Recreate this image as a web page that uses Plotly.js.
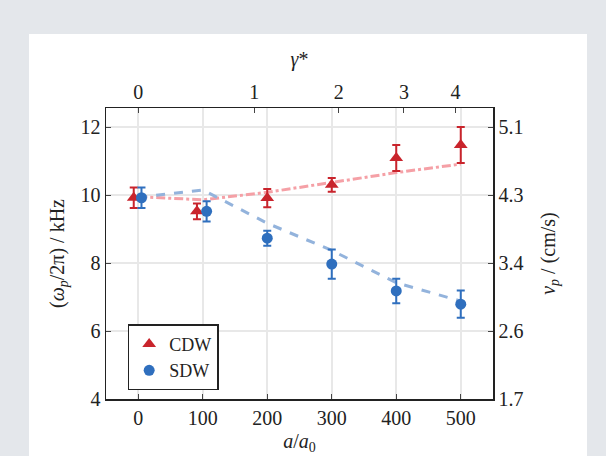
<!DOCTYPE html>
<html>
<head>
<meta charset="utf-8">
<script src="https://cdn.plot.ly/plotly-3.0.1.min.js"></script>
<style>
  html, body { margin: 0; padding: 0; }
  body { width: 606px; height: 456px; background: #e4e7eb; position: relative; overflow: hidden; }
  #panel { position: absolute; left: 29px; top: 34px; width: 558px; height: 422px; background: #ffffff; }
  #plot { position: absolute; left: 0; top: 0; width: 606px; height: 456px; }
</style>
</head>
<body>
<div id="panel"></div>
<div id="plot"></div>
<script>
// a/a0 positions (markers slightly offset where they overlap)
const cdwX = [-7, 91, 200, 300, 400, 500];
const cdwY = [9.92, 9.52, 9.91, 10.30, 11.09, 11.47];
const cdwErr = [0.30, 0.23, 0.27, 0.20, 0.38, 0.53];

const sdwX = [5, 106, 200, 300, 400, 500];
const sdwY = [9.92, 9.52, 8.73, 7.97, 7.18, 6.79];
const sdwErr = [0.30, 0.30, 0.22, 0.43, 0.36, 0.40];

// theory curves
const fitX = [0, 100, 200, 300, 400, 500];
const cdwFit = [9.95, 9.86, 10.08, 10.37, 10.66, 10.91];
const sdwFit = [9.93, 10.15, 9.17, 8.37, 7.42, 6.88];

// axis ticks
const leftTicks = [4, 6, 8, 10, 12];
const rightTickText = ['1.7', '2.6', '3.4', '4.3', '5.1'];
const gammaPos = [0, 180, 311, 412, 492];
const gammaText = ['0', '1', '2', '3', '4'];

const red = '#c9242c';
const blue = '#2f6fbe';
const fam = '"Liberation Serif", "Times New Roman", "DejaVu Serif", serif';
const font = { family: fam, size: 20, color: '#222222' };
const legFont = { family: fam, size: 18, color: '#222222' };

const traces = [
  { x: fitX, y: cdwFit, mode: 'lines', line: { color: '#f5a0a6', width: 3, dash: 'dashdot' }, showlegend: false, hoverinfo: 'skip' },
  { x: fitX, y: sdwFit, mode: 'lines', line: { color: '#93b3dc', width: 3, dash: 'dash' }, showlegend: false, hoverinfo: 'skip' },
  { x: cdwX, y: cdwY, name: 'CDW', mode: 'markers',
    marker: { symbol: 'triangle-up', size: 12, color: red },
    error_y: { type: 'data', array: cdwErr, color: red, thickness: 2, width: 4 } },
  { x: sdwX, y: sdwY, name: 'SDW', mode: 'markers',
    marker: { symbol: 'circle', size: 11, color: blue },
    error_y: { type: 'data', array: sdwErr, color: blue, thickness: 2, width: 4 } },
  // invisible trace to activate the secondary axes
  { x: [0], y: [10], xaxis: 'x2', yaxis: 'y2', mode: 'markers', marker: { opacity: 0 }, showlegend: false, hoverinfo: 'skip' }
];

const layout = {
  width: 606, height: 456,
  margin: { l: 106, r: 113, t: 108, b: 57 },
  paper_bgcolor: 'rgba(0,0,0,0)',
  plot_bgcolor: '#ffffff',
  font: font,
  showlegend: true,
  legend: {
    x: 0.056, y: 0.03, xanchor: 'left', yanchor: 'bottom',
    bgcolor: '#ffffff', bordercolor: '#222222', borderwidth: 1.5,
    font: legFont, tracegroupgap: 0, itemwidth: 30
  },
  xaxis: {
    range: [-50, 550], tickvals: fitX, ticks: 'inside', ticklen: 5, tickcolor: '#444',
    showgrid: true, gridcolor: '#e8e8e8', gridwidth: 2, zeroline: false,
    showline: true, linecolor: '#222', linewidth: 1.5,
    tickfont: font,
    title: { text: '<i>a</i>/<i>a</i><sub>0</sub>', font: font, standoff: 6 }
  },
  xaxis2: {
    overlaying: 'x', side: 'top', range: [-50, 550],
    tickvals: gammaPos, ticktext: gammaText, ticks: 'inside', ticklen: 5, tickcolor: '#444',
    showgrid: false, zeroline: false, showline: true, linecolor: '#222', linewidth: 1.5,
    tickfont: font,
    title: { text: '<i>γ</i>*', font: font, standoff: 8 }
  },
  yaxis: {
    range: [4, 12.56], tickvals: leftTicks, ticks: 'inside', ticklen: 5, tickcolor: '#444',
    showgrid: true, gridcolor: '#e8e8e8', gridwidth: 2, zeroline: false,
    showline: true, linecolor: '#222', linewidth: 1.5,
    tickfont: font,
    title: { text: '(<i>ω</i><sub><i>p</i></sub>/2π) / kHz', font: font, standoff: 10 }
  },
  yaxis2: {
    overlaying: 'y', side: 'right', range: [4, 12.56],
    tickvals: leftTicks, ticktext: rightTickText, ticks: 'inside', ticklen: 5, tickcolor: '#444',
    showgrid: false, zeroline: false, showline: true, linecolor: '#222', linewidth: 1.5,
    tickfont: font,
    title: { text: '<i>v</i><sub><i>p</i></sub> / (cm/s)', font: font, standoff: 18 }
  }
};

Plotly.newPlot('plot', traces, layout, { displayModeBar: false, staticPlot: true });
</script>
</body>
</html>
